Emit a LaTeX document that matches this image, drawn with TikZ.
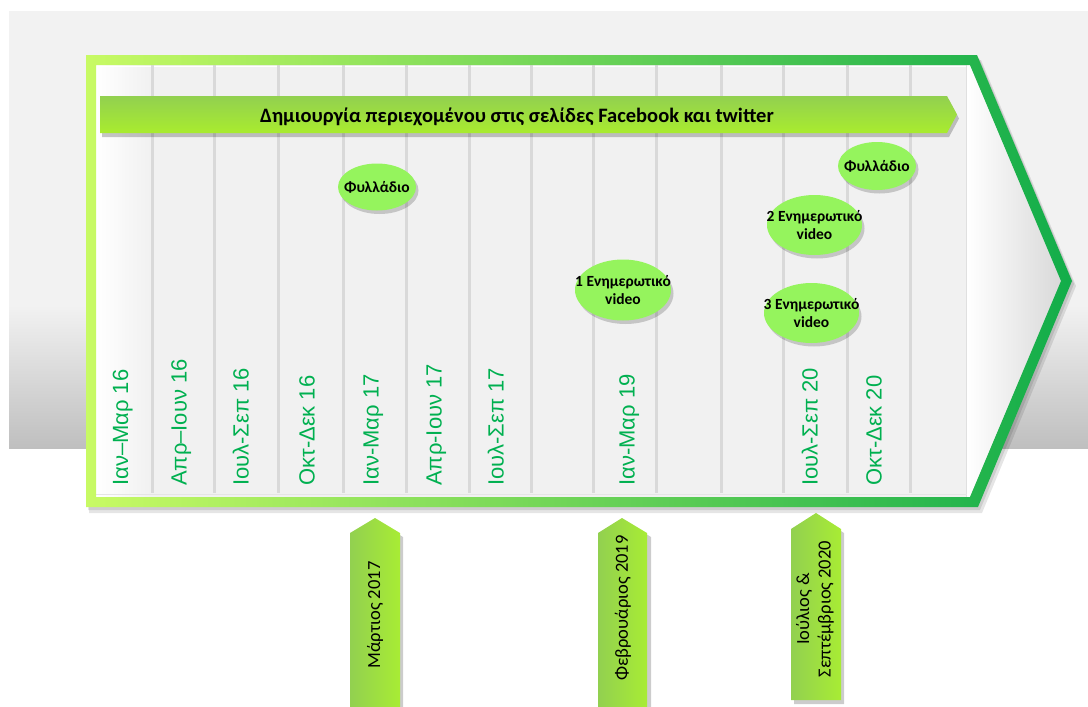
\documentclass[tikz,border=0pt]{standalone}
\usepackage{fontspec}
\setmainfont{Carlito}
\newfontfamily\labfont{Liberation Sans}
\usetikzlibrary{shapes.geometric,calc}
\definecolor{bgtop}{HTML}{F2F2F2}
\definecolor{bgbot}{HTML}{BFBFBF}
\definecolor{panel}{HTML}{F1F1F1}
\definecolor{linegray}{HTML}{D9D9D9}
\definecolor{bordL}{HTML}{C8FA64}
\definecolor{bordM}{HTML}{9EDC5A}
\definecolor{bordR}{HTML}{12AD4A}
\definecolor{banTop}{HTML}{92D050}
\definecolor{banBot}{HTML}{A9EC2E}
\definecolor{bubfill}{HTML}{95F45D}
\definecolor{arrL}{HTML}{92D050}
\definecolor{arrR}{HTML}{A8EC34}
\definecolor{labgreen}{HTML}{00B050}
\begin{document}
\begin{tikzpicture}[x=1pt,y=-1pt,
  collab/.style={rotate=90, anchor=west, font=\labfont\fontsize{22}{26}\selectfont,
    text=labgreen, inner sep=0pt, text height=16pt, text depth=5pt},
  bub/.style={ellipse, fill=bubfill, draw=none, inner sep=0pt},
  bubshadow/.style={ellipse, fill=black, opacity=0.18, draw=none, inner sep=0pt},
  bubtxt/.style={font=\bfseries\fontsize{15.5}{18}\selectfont, align=center, inner sep=0pt},
  arrtxt/.style={rotate=90, font=\fontsize{18.5}{21.5}\selectfont, align=center, inner sep=0pt},
  vline/.style={draw=linegray, line width=3pt},
  arrshape/.style={left color=arrL, right color=arrR},
]
\useasboundingbox (0,0) rectangle (1088,707);
\fill[white] (0,0) rectangle (1088,707);
% background band
\fill[bgtop] (9,11) rectangle (1088,305);
\shade[top color=bgtop, bottom color=bgbot] (9,305) rectangle (1088,448);

% chevron shadow
\fill[black, opacity=0.10] (89,60) -- (981,60) -- (1076,286) -- (982,513) -- (89,513) -- cycle;
\fill[black, opacity=0.10] (88,58) -- (979,58) -- (1074,284) -- (980,510) -- (88,510) -- cycle;

% inner panel
\fill[panel] (96,65) -- (970,65) -- (1061,281) -- (970,497) -- (96,497) -- cycle;
\shade[left color=white, right color=panel] (96,65) rectangle (150,497);
\shade[left color=white, right color=panel!90!black] (967,65) -- (970,65) -- (1061,281) -- (970,497) -- (967,497) -- cycle;
\draw[draw=white, line width=1pt] (96,66) -- (967,66);
\draw[draw=black!12, line width=1.5pt] (966.5,65) -- (966.5,497);
\draw[draw=white, line width=1.5pt] (968.5,65) -- (968.5,497);
\draw[draw=black!10, line width=1pt] (96,494) -- (967,494);

% column lines
\foreach \x in {152,214,278,343,406,469,531,593,656,721,783,847,910}
  \draw[vline] (\x,65) -- (\x,493);

% chevron border
\shade[left color=bordL, middle color=bordM, right color=bordR, even odd rule]
  (86,55) -- (977,55) -- (1072,281) -- (978,507) -- (86,507) -- cycle
  (96,65) -- (970,65) -- (1061,281) -- (970,497) -- (96,497) -- cycle;

% banner
\fill[black, opacity=0.22] (102,100) -- (949,100) -- (959,118.5) -- (949,137) -- (102,137) -- cycle;
\shade[top color=banTop, bottom color=banBot] (100,96) -- (947,96) -- (957,114.5) -- (947,133) -- (100,133) -- cycle;
\node[font=\bfseries\fontsize{20.5}{23}\selectfont, inner sep=0pt] (bantxt) at (517,116.5)
  {Δημιουργία περιεχομένου στις σελίδες Facebook και twitter};

% bubbles
\foreach \n/\cx/\cy/\w/\h in {f1/377/187/78/47, f2/877/166/78/48, v1/623/290/96/61, v2/814.5/225/95/60, v3/811.5/313/95/60}{
  \node[bubshadow, minimum width=\w pt, minimum height=\h pt] at (\cx+2.5,\cy+3.5) {};
  \node[bub, minimum width=\w pt, minimum height=\h pt] (\n) at (\cx,\cy) {};
}
\node[bubtxt] (f1t) at (f1) {Φυλλάδιο};
\node[bubtxt] (f2t) at (f2) {Φυλλάδιο};
\node[bubtxt] (v1t) at (v1) {1 Ενημερωτικό\\video};
\node[bubtxt] (v2t) at (v2) {2 Ενημερωτικό\\video};
\node[bubtxt] (v3t) at (v3) {3 Ενημερωτικό\\video};

% column labels
\node[collab] (c1) at (122.5,486) {Ιαν–Μαρ 16};
\node[collab] (c2) at (181,486) {Απρ–Ιουν 16};
\node[collab] (c3) at (243,486) {Ιουλ-Σεπ 16};
\node[collab] (c4) at (309,486) {Οκτ-Δεκ 16};
\node[collab] (c5) at (373,486) {Ιαν-Μαρ 17};
\node[collab] (c6) at (436,486) {Απρ-Ιουν 17};
\node[collab] (c7) at (498,486) {Ιουλ-Σεπ 17};
\node[collab] (c9) at (629,486) {Ιαν-Μαρ 19};
\node[collab] (c12) at (812,486) {Ιουλ-Σεπ 20};
\node[collab] (c13) at (876,486) {Οκτ-Δεκ 20};

% bottom arrows
\fill[black, opacity=0.2] (353,537) -- (377,521) -- (403,537) -- (403,707) -- (353,707) -- cycle;
\shade[arrshape] (350,533) -- (375,518) -- (400,533) -- (400,707) -- (350,707) -- cycle;
\node[arrtxt] (a1) at (375,615) {Μάρτιος 2017};

\fill[black, opacity=0.2] (601,537) -- (625,521) -- (651,537) -- (651,707) -- (601,707) -- cycle;
\shade[arrshape] (598,533) -- (622,518) -- (647,533) -- (647,707) -- (598,707) -- cycle;
\node[arrtxt] (a2) at (623,608) {Φεβρουάριος 2019};

\fill[black, opacity=0.2] (794,533) -- (818,516) -- (844,533) -- (844,704) -- (794,704) -- cycle;
\shade[arrshape] (791,529) -- (816,513) -- (841,529) -- (841,700) -- (791,700) -- cycle;
\node[arrtxt] (a3) at (815,609) {Ιούλιος \&\\Σεπτέμβριος 2020};
\end{tikzpicture}
\end{document}
